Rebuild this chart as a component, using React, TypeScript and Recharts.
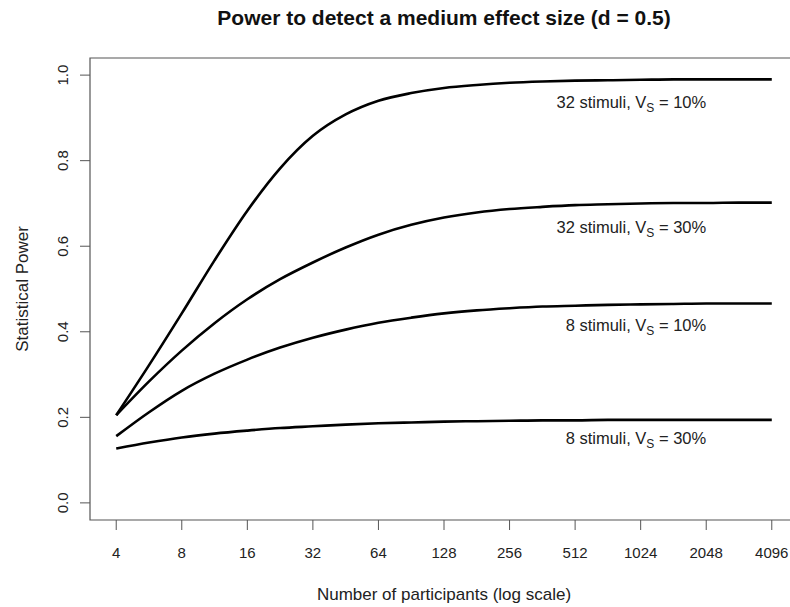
import React from 'react';
import { ComposedChart, Line, Scatter, XAxis, YAxis, ReferenceArea } from 'recharts';

// participants per point, in half steps of log2
const participants = [
    4, 5.66, 8, 11.31, 16, 22.63, 32, 45.25, 64, 90.51, 128, 181.02, 256, 362.04,
    512, 724.08, 1024, 1448.15, 2048, 2896.31, 4096,
];

// power curves
const stim32Vs10 = [
    0.205, 0.322, 0.443, 0.567, 0.683, 0.782, 0.858, 0.908, 0.94, 0.958, 0.97,
    0.977, 0.982, 0.985, 0.987, 0.988, 0.989, 0.99, 0.99, 0.99, 0.99,
];
const stim32Vs30 = [
    0.205, 0.284, 0.356, 0.42, 0.476, 0.523, 0.562, 0.597, 0.627, 0.65, 0.667,
    0.679, 0.687, 0.692, 0.696, 0.698, 0.7, 0.701, 0.701, 0.702, 0.702,
];
const stim8Vs10 = [
    0.156, 0.212, 0.262, 0.302, 0.335, 0.363, 0.386, 0.405, 0.421, 0.433, 0.443,
    0.45, 0.455, 0.459, 0.461, 0.463, 0.464, 0.465, 0.466, 0.466, 0.466,
];
const stim8Vs30 = [
    0.127, 0.141, 0.153, 0.162, 0.169, 0.175, 0.179, 0.183, 0.186, 0.188, 0.19,
    0.191, 0.192, 0.193, 0.193, 0.194, 0.194, 0.194, 0.194, 0.194, 0.194,
];

const xTicks = [4, 8, 16, 32, 64, 128, 256, 512, 1024, 2048, 4096];
const yTicks = [0, 0.2, 0.4, 0.6, 0.8, 1.0];

// curve annotations
const labelStimuli = ['32 stimuli', '32 stimuli', '8 stimuli', '8 stimuli'];
const labelVs = ['10%', '30%', '10%', '30%'];
const labelY = [0.937, 0.645, 0.416, 0.152];
const labelX = 2048;

const X_DOMAIN = [4 / Math.pow(2, 0.4), 4096 * Math.pow(2, 0.4)];
const Y_DOMAIN = [-0.04, 1.04];

const FONT = '"Liberation Sans", Arial, Helvetica, sans-serif';
const TEXT = '#222';
const FRAME = '#555';

const rows = participants.map((n, i) => ({
    n,
    s32v10: stim32Vs10[i],
    s32v30: stim32Vs30[i],
    s8v10: stim8Vs10[i],
    s8v30: stim8Vs30[i],
}));

const labelPoints = labelY.map((y, i) => ({
    n: labelX,
    ly: y,
    stim: labelStimuli[i],
    vs: labelVs[i],
}));

const XTick = (props: any) => {
    const { x, y, payload } = props;
    return (
        <text x={x} y={y + 28} textAnchor="middle" fontSize={15} fill={TEXT} fontFamily={FONT}>
            {payload.value}
        </text>
    );
};

const YTick = (props: any) => {
    const { x, y, payload } = props;
    const px = x - 12;
    return (
        <text x={px} y={y} transform={`rotate(-90 ${px} ${y})`} textAnchor="middle" fontSize={15} fill={TEXT} fontFamily={FONT}>
            {Number(payload.value).toFixed(1)}
        </text>
    );
};

const CurveLabel = (props: any) => {
    const { cx, cy, payload } = props;
    return (
        <text x={cx} y={cy} dy="0.35em" textAnchor="end" fontSize={16.5} fill={TEXT} fontFamily={FONT}>
            {payload.stim}, V
            <tspan fontSize={12} dy={4}>S</tspan>
            <tspan dy={-4}> = {payload.vs}</tspan>
        </text>
    );
};

export default function App() {
    return (
        <div style={{ position: 'absolute', left: 0, top: 0, width: 790, height: 607, overflow: 'hidden', background: '#fff' }}>
            <ComposedChart width={800} height={607} data={rows} margin={{ top: 58, right: 2, bottom: 0, left: 0 }}>
                <XAxis
                    dataKey="n"
                    type="number"
                    scale="log"
                    domain={X_DOMAIN}
                    ticks={xTicks}
                    allowDataOverflow
                    height={87}
                    axisLine={false}
                    tickSize={10}
                    tickMargin={0}
                    tickLine={{ stroke: FRAME, strokeWidth: 1 }}
                    tick={<XTick />}
                    interval={0}
                />
                <YAxis
                    type="number"
                    domain={Y_DOMAIN}
                    ticks={yTicks}
                    allowDataOverflow
                    width={90}
                    axisLine={false}
                    tickSize={10}
                    tickMargin={0}
                    tickLine={{ stroke: FRAME, strokeWidth: 1 }}
                    tick={<YTick />}
                    interval={0}
                />
                <ReferenceArea x1={X_DOMAIN[0]} x2={X_DOMAIN[1]} y1={Y_DOMAIN[0]} y2={Y_DOMAIN[1]} fill="none" stroke={FRAME} strokeWidth={1.2} />
                <Line type="monotone" dataKey="s32v10" stroke="#000" strokeWidth={2.6} dot={false} isAnimationActive={false} />
                <Line type="monotone" dataKey="s32v30" stroke="#000" strokeWidth={2.6} dot={false} isAnimationActive={false} />
                <Line type="monotone" dataKey="s8v10" stroke="#000" strokeWidth={2.6} dot={false} isAnimationActive={false} />
                <Line type="monotone" dataKey="s8v30" stroke="#000" strokeWidth={2.6} dot={false} isAnimationActive={false} />
                <Scatter data={labelPoints} dataKey="ly" shape={<CurveLabel />} isAnimationActive={false} />
            </ComposedChart>
            <svg width={790} height={607} style={{ position: 'absolute', left: 0, top: 0, pointerEvents: 'none' }}>
                <text x={444} y={25} textAnchor="middle" fontSize={21} fontWeight="bold" fill="#111" fontFamily={FONT}>
                    Power to detect a medium effect size (d = 0.5)
                </text>
                <text x={444} y={600} textAnchor="middle" fontSize={17} fill={TEXT} fontFamily={FONT}>
                    Number of participants (log scale)
                </text>
                <text x={28} y={289} transform="rotate(-90 28 289)" textAnchor="middle" fontSize={17} fill={TEXT} fontFamily={FONT}>
                    Statistical Power
                </text>
            </svg>
        </div>
    );
}
